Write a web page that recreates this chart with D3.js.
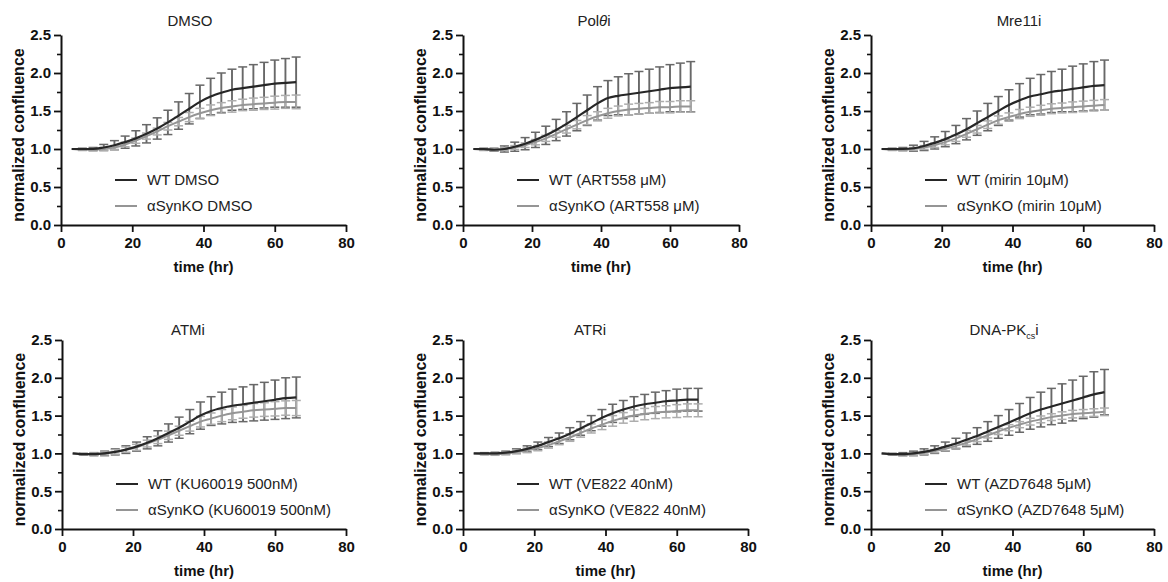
<!DOCTYPE html>
<html lang="en">
<head>
<meta charset="UTF-8">
<title>Normalized confluence over time</title>
<script src="https://d3js.org/d3.v7.min.js"></script>
<style>
  body { margin: 0; background: #fff; }
  svg text { font-family: "Liberation Sans", Arial, sans-serif; }
</style>
</head>
<body>
<svg id="chart" width="1168" height="582"></svg>
<script>
// time points (hr)
const times = [3, 6, 9, 12, 15, 18, 21, 24, 27, 30, 33, 36, 39, 42, 45, 48, 51, 54, 57, 60, 63, 66];
const xTicks = [0, 20, 40, 60, 80];
const yTicks = [0, 0.5, 1.0, 1.5, 2.0, 2.5];
const yMinorTicks = [0.25, 0.75, 1.25, 1.75, 2.25];

const titles = ["DMSO", "Polθi", "Mre11i", "ATMi", "ATRi", "DNA-PKcsi"];
const wtLabels = ["WT DMSO", "WT (ART558 μM)", "WT (mirin 10μM)", "WT (KU60019 500nM)", "WT (VE822 40nM)", "WT (AZD7648 5μM)"];
const koLabels = ["αSynKO DMSO", "αSynKO (ART558 μM)", "αSynKO (mirin 10μM)", "αSynKO (KU60019 500nM)", "αSynKO (VE822 40nM)", "αSynKO (AZD7648 5μM)"];

// DMSO
const dmsoWT   = [1.00, 1.00, 1.00, 1.02, 1.05, 1.09, 1.14, 1.20, 1.27, 1.35, 1.44, 1.53, 1.62, 1.69, 1.74, 1.78, 1.80, 1.82, 1.84, 1.86, 1.87, 1.88];
const dmsoWTsd = [0.00, 0.01, 0.02, 0.04, 0.06, 0.08, 0.10, 0.12, 0.14, 0.16, 0.18, 0.20, 0.22, 0.24, 0.26, 0.27, 0.28, 0.29, 0.30, 0.31, 0.32, 0.33];
const dmsoKO   = [1.00, 0.99, 0.99, 1.00, 1.02, 1.06, 1.11, 1.17, 1.23, 1.30, 1.36, 1.42, 1.47, 1.51, 1.54, 1.56, 1.58, 1.59, 1.60, 1.61, 1.62, 1.62];
const dmsoKOsd = [0.00, 0.01, 0.015, 0.02, 0.025, 0.03, 0.035, 0.04, 0.045, 0.05, 0.055, 0.06, 0.065, 0.07, 0.07, 0.075, 0.075, 0.08, 0.08, 0.085, 0.085, 0.09];

// Pol theta inhibitor
const polWT   = [1.00, 1.00, 0.99, 1.00, 1.03, 1.07, 1.12, 1.18, 1.25, 1.33, 1.42, 1.51, 1.60, 1.67, 1.70, 1.72, 1.74, 1.76, 1.78, 1.80, 1.81, 1.82];
const polWTsd = [0.00, 0.01, 0.02, 0.04, 0.06, 0.08, 0.10, 0.12, 0.14, 0.16, 0.18, 0.20, 0.22, 0.23, 0.25, 0.27, 0.28, 0.29, 0.30, 0.31, 0.32, 0.33];
const polKO   = [1.00, 0.99, 0.99, 1.00, 1.02, 1.05, 1.09, 1.14, 1.20, 1.26, 1.32, 1.38, 1.43, 1.47, 1.50, 1.52, 1.53, 1.54, 1.55, 1.55, 1.56, 1.56];
const polKOsd = [0.00, 0.01, 0.015, 0.02, 0.025, 0.03, 0.035, 0.04, 0.045, 0.05, 0.055, 0.06, 0.06, 0.065, 0.065, 0.07, 0.07, 0.07, 0.075, 0.075, 0.075, 0.075];

// Mre11 inhibitor
const mreWT   = [1.00, 1.00, 1.00, 1.01, 1.04, 1.08, 1.13, 1.19, 1.26, 1.34, 1.42, 1.50, 1.58, 1.64, 1.69, 1.72, 1.75, 1.77, 1.79, 1.81, 1.83, 1.84];
const mreWTsd = [0.00, 0.01, 0.02, 0.04, 0.06, 0.08, 0.10, 0.12, 0.14, 0.16, 0.18, 0.19, 0.20, 0.22, 0.24, 0.26, 0.27, 0.28, 0.30, 0.31, 0.32, 0.33];
const mreKO   = [1.00, 0.99, 0.99, 1.00, 1.02, 1.05, 1.09, 1.14, 1.20, 1.26, 1.32, 1.38, 1.42, 1.46, 1.49, 1.51, 1.53, 1.54, 1.55, 1.56, 1.57, 1.58];
const mreKOsd = [0.00, 0.01, 0.015, 0.02, 0.025, 0.03, 0.035, 0.04, 0.045, 0.05, 0.05, 0.055, 0.055, 0.06, 0.06, 0.065, 0.065, 0.065, 0.07, 0.07, 0.07, 0.07];

// ATM inhibitor
const atmWT   = [1.00, 0.99, 0.99, 1.00, 1.02, 1.05, 1.09, 1.14, 1.20, 1.27, 1.34, 1.42, 1.50, 1.56, 1.60, 1.63, 1.65, 1.67, 1.69, 1.71, 1.73, 1.74];
const atmWTsd = [0.00, 0.01, 0.02, 0.03, 0.04, 0.05, 0.06, 0.08, 0.10, 0.12, 0.14, 0.16, 0.18, 0.19, 0.21, 0.22, 0.23, 0.24, 0.25, 0.26, 0.27, 0.27];
const atmKO   = [1.00, 0.99, 0.99, 1.00, 1.02, 1.05, 1.08, 1.13, 1.18, 1.24, 1.30, 1.36, 1.42, 1.46, 1.50, 1.53, 1.55, 1.57, 1.58, 1.59, 1.60, 1.60];
const atmKOsd = [0.00, 0.01, 0.015, 0.02, 0.03, 0.035, 0.04, 0.045, 0.05, 0.055, 0.06, 0.065, 0.07, 0.075, 0.08, 0.085, 0.085, 0.09, 0.09, 0.095, 0.095, 0.10];

// ATR inhibitor
const atrWT   = [1.00, 1.00, 1.00, 1.01, 1.03, 1.06, 1.10, 1.15, 1.20, 1.26, 1.33, 1.40, 1.47, 1.53, 1.58, 1.62, 1.65, 1.67, 1.69, 1.70, 1.71, 1.71];
const atrWTsd = [0.00, 0.01, 0.015, 0.02, 0.03, 0.04, 0.05, 0.06, 0.07, 0.08, 0.09, 0.10, 0.11, 0.12, 0.12, 0.13, 0.13, 0.14, 0.14, 0.15, 0.15, 0.15];
const atrKO   = [1.00, 0.99, 0.99, 1.00, 1.02, 1.04, 1.07, 1.11, 1.16, 1.21, 1.27, 1.33, 1.38, 1.43, 1.47, 1.50, 1.52, 1.54, 1.55, 1.56, 1.57, 1.57];
const atrKOsd = [0.00, 0.01, 0.015, 0.02, 0.025, 0.03, 0.035, 0.04, 0.045, 0.05, 0.055, 0.06, 0.065, 0.07, 0.07, 0.075, 0.075, 0.08, 0.08, 0.085, 0.085, 0.085];

// DNA-PKcs inhibitor
const pkWT   = [1.00, 0.99, 0.99, 1.00, 1.02, 1.05, 1.09, 1.13, 1.18, 1.23, 1.29, 1.35, 1.41, 1.47, 1.53, 1.58, 1.62, 1.66, 1.70, 1.74, 1.78, 1.81];
const pkWTsd = [0.00, 0.01, 0.02, 0.03, 0.04, 0.05, 0.06, 0.07, 0.09, 0.11, 0.13, 0.15, 0.17, 0.19, 0.21, 0.23, 0.24, 0.26, 0.27, 0.28, 0.30, 0.30];
const pkKO   = [1.00, 0.99, 0.98, 0.99, 1.01, 1.03, 1.06, 1.10, 1.14, 1.19, 1.24, 1.29, 1.34, 1.38, 1.42, 1.45, 1.48, 1.50, 1.52, 1.53, 1.54, 1.55];
const pkKOsd = [0.00, 0.01, 0.01, 0.015, 0.02, 0.02, 0.025, 0.03, 0.03, 0.035, 0.035, 0.04, 0.04, 0.04, 0.045, 0.045, 0.045, 0.05, 0.05, 0.05, 0.05, 0.05];

const seriesWT   = [dmsoWT, polWT, mreWT, atmWT, atrWT, pkWT];
const seriesWTsd = [dmsoWTsd, polWTsd, mreWTsd, atmWTsd, atrWTsd, pkWTsd];
const seriesKO   = [dmsoKO, polKO, mreKO, atmKO, atrKO, pkKO];
const seriesKOsd = [dmsoKOsd, polKOsd, mreKOsd, atmKOsd, atrKOsd, pkKOsd];

// panel placement in the page (pixels)
const layout = [
    { x0: 61,  x1: 346,  top: 35,  bottom: 225, titleX: 190,  titleY: 26 },
    { x0: 463, x1: 739,  top: 35,  bottom: 225, titleX: 594,  titleY: 26 },
    { x0: 871, x1: 1154, top: 35,  bottom: 225, titleX: 1019, titleY: 26 },
    { x0: 62,  x1: 346,  top: 340, bottom: 529, titleX: 188,  titleY: 335 },
    { x0: 463, x1: 748,  top: 340, bottom: 529, titleX: 590,  titleY: 335 },
    { x0: 871, x1: 1154, top: 340, bottom: 529, titleX: 1004, titleY: 335 }
];

const wtLine = '#262626', wtBar = '#686868';
const koLine = '#959595', koBar = '#adadad';
const fontStack = '"Liberation Sans", Arial, sans-serif';

const svg = d3.select('#chart');

function drawTitle(g, title, x, y) {
    const t = g.append('text')
        .attr('x', x).attr('y', y)
        .attr('text-anchor', 'middle')
        .style('font-size', '15px')
        .attr('fill', '#222');
    if (title.includes('θ')) {
        const parts = title.split('θ');
        t.append('tspan').text(parts[0]);
        t.append('tspan').style('font-style', 'italic').text('θ');
        t.append('tspan').text(parts[1]);
    } else if (title.includes('PKcs')) {
        t.append('tspan').text('DNA-PK');
        t.append('tspan').attr('dy', 4).style('font-size', '9px').text('cs');
        t.append('tspan').attr('dy', -4).text('i');
    } else {
        t.text(title);
    }
}

function drawErrorBars(g, x, y, means, sds, color, width) {
    const cap = 4.5;
    const pts = times.map((t, i) => ({ t, m: means[i], s: sds[i] })).filter(d => d.s > 0.005);
    const bars = g.append('g');
    bars.selectAll('line.v').data(pts).enter().append('line')
        .attr('x1', d => x(d.t)).attr('x2', d => x(d.t))
        .attr('y1', d => y(d.m - d.s)).attr('y2', d => y(d.m + d.s))
        .attr('stroke', color).attr('stroke-width', width);
    ['hi', 'lo'].forEach(k => {
        bars.selectAll('line.' + k).data(pts).enter().append('line')
            .attr('x1', d => x(d.t) - cap).attr('x2', d => x(d.t) + cap)
            .attr('y1', d => y(k === 'hi' ? d.m + d.s : d.m - d.s))
            .attr('y2', d => y(k === 'hi' ? d.m + d.s : d.m - d.s))
            .attr('stroke', color).attr('stroke-width', 1.5);
    });
}

layout.forEach((p, idx) => {
    const g = svg.append('g');
    const x = d3.scaleLinear().domain([0, 80]).range([p.x0, p.x1]);
    const y = d3.scaleLinear().domain([0, 2.5]).range([p.bottom, p.top]);

    drawTitle(g, titles[idx], p.titleX, p.titleY);

    // error bars then lines
    drawErrorBars(g, x, y, seriesWT[idx], seriesWTsd[idx], wtBar, 1.9);
    drawErrorBars(g, x, y, seriesKO[idx], seriesKOsd[idx], koBar, 1.6);

    const line = d3.line().x((d, i) => x(times[i])).y(d => y(d)).curve(d3.curveMonotoneX);
    g.append('path').attr('d', line(seriesKO[idx]))
        .attr('fill', 'none').attr('stroke', koLine).attr('stroke-width', 2);
    g.append('path').attr('d', line(seriesWT[idx]))
        .attr('fill', 'none').attr('stroke', wtLine).attr('stroke-width', 2.2);

    // y axis with minor ticks
    g.append('g')
        .attr('transform', `translate(${p.x0},0)`)
        .call(d3.axisLeft(y).tickValues(yMinorTicks).tickSize(4).tickFormat(''))
        .call(a => a.select('.domain').remove())
        .call(a => a.selectAll('line').attr('stroke', '#111').attr('stroke-width', 1.6));
    const ya = g.append('g')
        .attr('transform', `translate(${p.x0},0)`)
        .call(d3.axisLeft(y).tickValues(yTicks).tickSize(7).tickSizeOuter(0).tickPadding(3).tickFormat(d3.format('.1f')));
    ya.select('.domain').attr('stroke', '#111').attr('stroke-width', 2);
    ya.selectAll('line').attr('stroke', '#111').attr('stroke-width', 1.8);
    ya.selectAll('text').style('font-size', '15px').style('font-weight', 'bold').attr('fill', '#111')
        .style('font-family', fontStack);

    // x axis
    const xa = g.append('g')
        .attr('transform', `translate(0,${p.bottom})`)
        .call(d3.axisBottom(x).tickValues(xTicks).tickSize(7).tickSizeOuter(0).tickPadding(5));
    xa.select('.domain').attr('stroke', '#111').attr('stroke-width', 2);
    xa.selectAll('line').attr('stroke', '#111').attr('stroke-width', 1.8);
    xa.selectAll('text').style('font-size', '15px').style('font-weight', 'bold').attr('fill', '#111')
        .style('font-family', fontStack);

    // axis titles
    g.append('text')
        .attr('x', (p.x0 + p.x1) / 2).attr('y', p.bottom + 47)
        .attr('text-anchor', 'middle')
        .style('font-size', '15px').style('font-weight', 'bold').attr('fill', '#111')
        .text('time (hr)');
    g.append('text')
        .attr('transform', `translate(${p.x0 - 37},${(p.top + p.bottom) / 2 + 5}) rotate(-90)`)
        .attr('text-anchor', 'middle')
        .style('font-size', '16px').style('font-weight', 'bold').attr('fill', '#111')
        .text('normalized confluence');

    // legend
    const legend = [
        { label: wtLabels[idx], color: wtLine, dy: -45 },
        { label: koLabels[idx], color: koLine, dy: -19 }
    ];
    const lg = g.selectAll('.legend-item').data(legend).enter().append('g')
        .attr('class', 'legend-item')
        .attr('transform', d => `translate(${p.x0 + 54},${p.bottom + d.dy})`);
    lg.append('line').attr('x1', 0).attr('x2', 22).attr('y1', 0).attr('y2', 0)
        .attr('stroke', d => d.color).attr('stroke-width', 2);
    lg.append('text').attr('x', 32).attr('y', 5)
        .style('font-size', '15px').attr('fill', '#222')
        .text(d => d.label);
});
</script>
</body>
</html>
